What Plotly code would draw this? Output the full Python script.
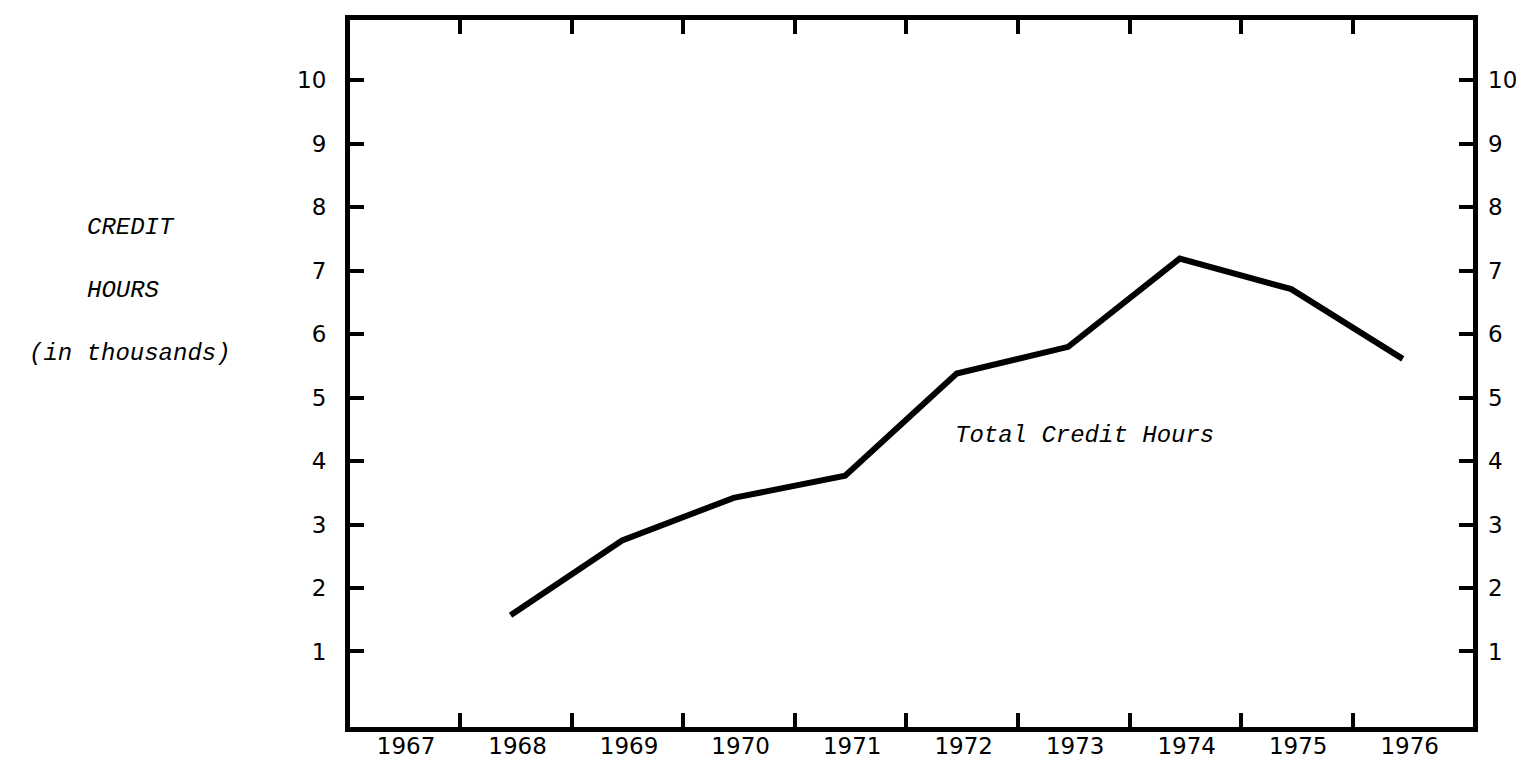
import plotly.graph_objects as go

years = [1968, 1969, 1970, 1971, 1972, 1973, 1974, 1975, 1976]
credit_hours = [1.57, 2.75, 3.42, 3.77, 5.38, 5.80, 7.19, 6.71, 5.61]
year_labels = ["1967", "1968", "1969", "1970", "1971", "1972", "1973", "1974", "1975", "1976"]
label_years = [1967, 1968, 1969, 1970, 1971, 1972, 1973, 1974, 1975, 1976]
tick_marks_x = [1967.55, 1968.55, 1969.55, 1970.55, 1971.55, 1972.55, 1973.55, 1974.55, 1975.55]
y_ticks = [1, 2, 3, 4, 5, 6, 7, 8, 9, 10]
series_name = "Total Credit Hours"
title_lines = ["CREDIT", "HOURS", "(in thousands)"]

XR = [1966.56, 1976.63]
YR = [-0.19, 10.95]

W, H = 1524, 758
ML, MR, MT, MB = 342, 59, 7, 31

tick_font = dict(family="DejaVu Sans", size=23, color="black")
type_font = dict(family="Liberation Mono", size=24, color="black", style="italic")

fig = go.Figure()
fig.add_trace(go.Scatter(
    x=years, y=credit_hours, mode="lines", name=series_name,
    line=dict(color="black", width=6), showlegend=False,
))
# invisible trace on secondary axes so they render
fig.add_trace(go.Scatter(x=[years[0]], y=[credit_hours[0]], xaxis="x2", yaxis="y2",
                         mode="markers", marker=dict(opacity=0), showlegend=False,
                         hoverinfo="skip"))

fig.update_layout(
    width=W, height=H,
    margin=dict(l=ML, r=MR, t=MT, b=MB, pad=0),
    paper_bgcolor="white", plot_bgcolor="white",
    xaxis=dict(range=XR, showgrid=False, zeroline=False,
               showline=True, linecolor="black", linewidth=5, mirror="ticks",
               tickmode="array", tickvals=tick_marks_x, ticks="inside",
               ticklen=14, tickwidth=4, tickcolor="black", showticklabels=False),
    xaxis2=dict(range=XR, overlaying="x", side="bottom", anchor="y",
                showgrid=False, zeroline=False, showline=False,
                tickmode="array", tickvals=label_years, ticktext=year_labels,
                ticks="", tickfont=tick_font, ticklabelstandoff=3,
                ticklabelshift=7),
    yaxis=dict(range=YR, showgrid=False, zeroline=False,
               showline=True, linecolor="black", linewidth=5, mirror=True,
               tickmode="array", tickvals=y_ticks, ticks="inside",
               ticklen=14, tickwidth=4, tickcolor="black",
               tickfont=tick_font, ticklabelstandoff=14),
    yaxis2=dict(range=YR, overlaying="y", side="right", anchor="x",
                showgrid=False, zeroline=False, showline=False,
                tickmode="array", tickvals=y_ticks, ticks="inside",
                ticklen=14, tickwidth=4, tickcolor="black",
                tickfont=tick_font, ticklabelstandoff=14),
)

# series label
fig.add_annotation(x=1971.97, y=4.4, xref="x", yref="y", text=series_name,
                   showarrow=False, xanchor="left", yanchor="middle", font=type_font)

# y-axis title lines (typed, left aligned like a typewriter)
title_x = [-0.236, -0.236, -0.2876]
title_y = [0.707, 0.618, 0.528]
for txt, xx, yy in zip(title_lines, title_x, title_y):
    fig.add_annotation(x=xx, y=yy, xref="paper", yref="paper", text=txt,
                       showarrow=False, xanchor="left", yanchor="middle",
                       font=type_font)

fig.write_html("out.html")
